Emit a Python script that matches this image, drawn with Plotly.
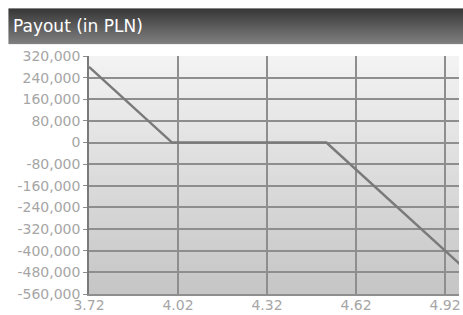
import plotly.graph_objects as go
import zlib, struct, base64

# Data
x_vals = [3.72, 4.00, 4.52, 4.97]
payout = [280000, 0, 0, -450000]
x_ticks = [3.72, 4.02, 4.32, 4.62, 4.92]
x_labels = ["3.72", "4.02", "4.32", "4.62", "4.92"]
y_ticks = list(range(-560000, 320001, 80000))
y_labels = [f"{v:,}" for v in y_ticks]
title_text = "Payout (in PLN)"

W, H = 463, 315
L, R, T, B = 89, 2, 56, 19
pw, ph = W - L - R, H - T - B


def px_x(p):
    return (p - L) / pw


def px_y(p):
    return (H - B - p) / ph


def grad_png(c_top, c_bot, n=64):
    raw = b""
    for i in range(n):
        t = i / (n - 1)
        c = bytes(round(a + (b - a) * t) for a, b in zip(c_top, c_bot))
        raw += b"\x00" + c
    def chunk(tag, data):
        return struct.pack(">I", len(data)) + tag + data + struct.pack(">I", zlib.crc32(tag + data) & 0xffffffff)
    png = b"\x89PNG\r\n\x1a\n" + chunk(b"IHDR", struct.pack(">IIBBBBB", 1, n, 8, 2, 0, 0, 0))
    png += chunk(b"IDAT", zlib.compress(raw)) + chunk(b"IEND", b"")
    return "data:image/png;base64," + base64.b64encode(png).decode()


images = [
    dict(source=grad_png((243, 243, 243), (198, 198, 198)), xref="paper", yref="paper",
         x=0, y=1, sizex=1, sizey=1, sizing="stretch", xanchor="left", yanchor="top",
         layer="below"),
    dict(source=grad_png((55, 55, 55), (128, 128, 128)), xref="paper", yref="paper",
         x=px_x(8), y=px_y(8), sizex=px_x(W + 4) - px_x(8), sizey=px_y(8) - px_y(44),
         sizing="stretch", xanchor="left", yanchor="top", layer="below"),
]

fig = go.Figure()
fig.add_trace(go.Scatter(x=x_vals, y=payout, mode="lines",
                         line=dict(color="#7a7a7a", width=2.5),
                         hoverinfo="skip", showlegend=False))

fig.update_layout(
    width=W, height=H,
    margin=dict(l=L, r=R, t=T, b=B),
    paper_bgcolor="white",
    plot_bgcolor="rgba(0,0,0,0)",
    images=images,
    font=dict(family="DejaVu Sans", size=14, color="#a6a6a6"),
    annotations=[dict(text=title_text, xref="paper", yref="paper",
                      x=px_x(11), y=px_y(26), xanchor="left", yanchor="middle",
                      showarrow=False,
                      font=dict(family="DejaVu Sans", size=17, color="white"))],
)
fig.update_xaxes(range=[3.72, 3.72 + pw / (358 / 1.2)],
                 tickvals=x_ticks, ticktext=x_labels,
                 showgrid=True, gridcolor="#8e8e8e", gridwidth=1.5,
                 zeroline=False, showline=True, linecolor="#8e8e8e", linewidth=1.5,
                 ticks="", ticklen=0, ticklabelstandoff=-3,
                 tickfont=dict(size=14, color="#a6a6a6"))
fig.update_yaxes(range=[-560000, 320000],
                 tickvals=y_ticks, ticktext=y_labels,
                 showgrid=True, gridcolor="#8e8e8e", gridwidth=1.5,
                 zeroline=False, showline=True, linecolor="#7a7a7a", linewidth=1.5,
                 ticks="outside", ticklen=4, tickcolor="#8e8e8e",
                 tickfont=dict(size=14, color="#a6a6a6"))

fig.write_html("out.html",
               config={"displayModeBar": False},
               post_script="document.body.style.margin='0';"
                           "document.documentElement.style.overflow='hidden';")
